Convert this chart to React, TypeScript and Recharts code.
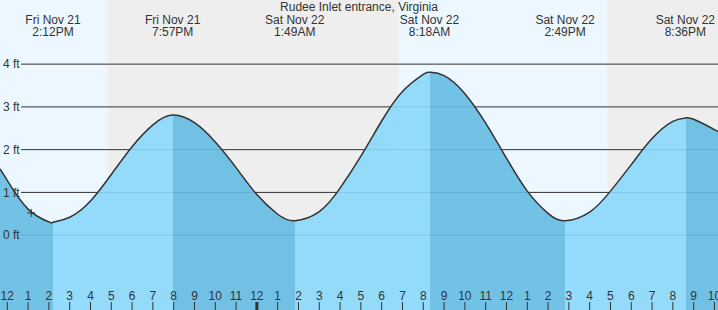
import React from 'react';
import {
    ComposedChart,
    Area,
    XAxis,
    YAxis,
    ReferenceArea,
    ReferenceLine,
    ReferenceDot,
} from 'recharts';

// hours since Fri Nov 21 12:00 PM
const T_START = -0.35;
const T_END = 34.17;
const FT_MIN = -1.75;
const FT_MAX = 5.5;

const TIDE_T = [
    -0.35, 0, 1, 2, 2.2, 3, 4, 5, 6, 7, 7.95, 9, 10, 11, 12, 13, 13.82, 15, 16, 17,
    18, 19, 20, 20.3, 21, 22, 23, 24, 25, 26, 26.82, 28, 29, 30, 31, 32, 32.6, 33, 34, 34.17,
];
const TIDE_FT = [
    1.55, 1.28, 0.61, 0.31, 0.3, 0.42, 0.8, 1.42, 2.07, 2.58, 2.81, 2.63, 2.18, 1.58, 0.95, 0.49, 0.34, 0.55, 1.1, 1.85,
    2.67, 3.36, 3.76, 3.81, 3.73, 3.31, 2.62, 1.8, 1.03, 0.51, 0.34, 0.54, 1.03, 1.65, 2.26, 2.66, 2.74, 2.71, 2.47, 2.42,
];

// high / low tide events
const EVENT_T = [2.2, 7.95, 13.82, 20.3, 26.82, 32.6];
const EVENT_DAY = ['Fri Nov 21', 'Fri Nov 21', 'Sat Nov 22', 'Sat Nov 22', 'Sat Nov 22', 'Sat Nov 22'];
const EVENT_TIME = ['2:12PM', '7:57PM', '1:49AM', '8:18AM', '2:49PM', '8:36PM'];

// sunset -> sunrise
const NIGHT_START = [4.83, 28.86];
const NIGHT_END = [18.81, 34.17];

const HOUR_TICKS = [
    0, 1, 2, 3, 4, 5, 6, 7, 8, 9, 10, 11, 12, 13, 14, 15, 16, 17, 18, 19, 20, 21, 22, 23,
    24, 25, 26, 27, 28, 29, 30, 31, 32, 33, 34,
];
const HOUR_LABELS = [
    '12', '1', '2', '3', '4', '5', '6', '7', '8', '9', '10', '11', '12', '1', '2', '3', '4', '5', '6', '7', '8', '9', '10', '11',
    '12', '1', '2', '3', '4', '5', '6', '7', '8', '9', '10',
];
const MIDNIGHT_T = 12;

const FT_TICKS = [0, 1, 2, 3, 4];
const GRID_T0 = 0.66; // grid rows start just right of the "4 ft" labels

const NOW_T = 1.15;
const NOW_FT = 0.52;

const FONT = '"Liberation Sans", Arial, sans-serif';
const TEXT = '#333';
const DAY_BG = '#edf7ff';
const NIGHT_BG = '#eeeeee';
const WATER_RISE = '#8ad8fb';
const WATER_FALL = '#64bce3';

const data = TIDE_T.map((t, i) => ({ t, ft: TIDE_FT[i] }));

// falling before first event, then alternating
const waterStops: { offset: number; color: string }[] = [];
{
    const span = T_END - T_START;
    let color = WATER_FALL;
    waterStops.push({ offset: 0, color });
    EVENT_T.forEach((t) => {
        const off = (t - T_START) / span;
        waterStops.push({ offset: off, color });
        color = color === WATER_FALL ? WATER_RISE : WATER_FALL;
        waterStops.push({ offset: off, color });
    });
    waterStops.push({ offset: 1, color });
}

const HourTick = ({ x, y, payload }: any) => {
    const i = HOUR_TICKS.indexOf(payload.value);
    return (
        <g>
            <line
                x1={x}
                x2={x}
                y1={y + 2}
                y2={y + 10}
                stroke={TEXT}
                strokeWidth={payload.value === MIDNIGHT_T ? 3 : 1}
            />
            <text x={x} y={y} textAnchor="middle" fill={TEXT} fontSize={12} fontFamily={FONT}>
                {HOUR_LABELS[i]}
            </text>
        </g>
    );
};

const EventLabel = ({ viewBox, day, time }: any) => (
    <text x={viewBox.x} y={viewBox.y + 24} textAnchor="middle" fill={TEXT} fontSize={12} fontFamily={FONT}>
        <tspan x={viewBox.x}>{day}</tspan>
        <tspan x={viewBox.x} dy={12}>
            {time}
        </tspan>
    </text>
);

const NowMark = ({ cx, cy }: any) => (
    <g stroke={TEXT} strokeWidth={1}>
        <line x1={cx - 4} x2={cx + 4} y1={cy} y2={cy} />
        <line x1={cx} x2={cx} y1={cy - 4} y2={cy + 4} />
    </g>
);

export default function App() {
    return (
        <div style={{ position: 'fixed', left: 0, top: 0, width: 718, height: 310, background: DAY_BG }}>
            <div
                style={{
                    position: 'absolute',
                    left: 0,
                    top: 0,
                    width: 718,
                    textAlign: 'center',
                    fontFamily: FONT,
                    fontSize: 12,
                    lineHeight: '14px',
                    color: TEXT,
                    zIndex: 2,
                }}
            >
                Rudee Inlet entrance, Virginia
            </div>
            <ComposedChart width={718} height={310} data={data} margin={{ top: 0, right: 0, bottom: 0, left: 0 }}>
                <defs>
                    <linearGradient id="water" x1="0" y1="0" x2="1" y2="0">
                        {waterStops.map((s, i) => (
                            <stop key={i} offset={s.offset} stopColor={s.color} />
                        ))}
                    </linearGradient>
                </defs>
                {NIGHT_START.map((s, i) => (
                    <ReferenceArea
                        key={'n' + i}
                        x1={s}
                        x2={NIGHT_END[i]}
                        fill={NIGHT_BG}
                        fillOpacity={1}
                        stroke="none"
                        ifOverflow="hidden"
                        zIndex={-300}
                    />
                ))}
                {FT_TICKS.map((v) => (
                    <ReferenceLine
                        key={'g' + v}
                        segment={[
                            { x: GRID_T0, y: v },
                            { x: T_END, y: v },
                        ]}
                        stroke={TEXT}
                        strokeWidth={1}
                        zIndex={-200}
                    />
                ))}
                <XAxis
                    dataKey="t"
                    type="number"
                    domain={[T_START, T_END]}
                    ticks={HOUR_TICKS}
                    interval={0}
                    allowDataOverflow
                    orientation="bottom"
                    mirror
                    axisLine={false}
                    tickLine={false}
                    tickSize={8}
                    tickMargin={2}
                    tick={<HourTick />}
                />
                <YAxis
                    type="number"
                    domain={[FT_MIN, FT_MAX]}
                    ticks={FT_TICKS}
                    allowDataOverflow
                    mirror
                    axisLine={false}
                    tickLine={false}
                    tickSize={0}
                    tickMargin={3}
                    tickFormatter={(v) => `${v} ft`}
                    tick={{ fill: TEXT, fontSize: 12, fontFamily: FONT }}
                />
                <Area
                    type="natural"
                    dataKey="ft"
                    baseValue="dataMin"
                    stroke={TEXT}
                    strokeWidth={1.5}
                    fill="url(#water)"
                    fillOpacity={0.9}
                    dot={false}
                    activeDot={false}
                    isAnimationActive={false}
                />
                {EVENT_T.map((t, i) => (
                    <ReferenceLine
                        key={'e' + i}
                        x={t}
                        stroke="none"
                        label={(p: any) => <EventLabel {...p} day={EVENT_DAY[i]} time={EVENT_TIME[i]} />}
                    />
                ))}
                <ReferenceDot x={NOW_T} y={NOW_FT} r={4} shape={<NowMark />} />
            </ComposedChart>
        </div>
    );
}
